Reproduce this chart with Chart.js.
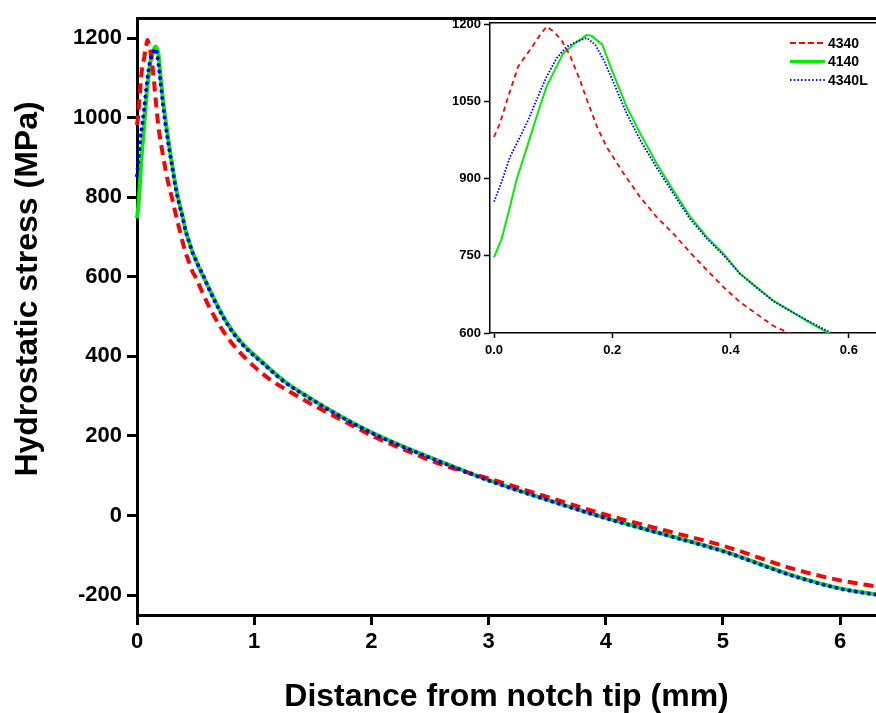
<!DOCTYPE html>
<html><head><meta charset="utf-8">
<script src="https://cdn.jsdelivr.net/npm/chart.js@4/dist/chart.umd.min.js"></script>
<style>
html,body{margin:0;padding:0;background:#fff;overflow:hidden;width:876px;height:713px}
#main{position:absolute;left:0;top:0;width:876px;height:713px}
#inset{position:absolute;left:440px;top:10px;width:436px;height:352px}
</style></head><body>
<div id="main"><canvas id="c1"></canvas></div>
<div id="inset"><canvas id="c2"></canvas></div>
<script>
const seriesNames = ['4340', '4140', '4340L'];
const xTitle = 'Distance from notch tip (mm)';
const yTitle = 'Hydrostatic stress (MPa)';

const x4340 = [0, 0.01, 0.024, 0.041, 0.061, 0.078, 0.089, 0.1, 0.114, 0.128, 0.145, 0.157, 0.174, 0.19, 0.219, 0.247, 0.275, 0.303, 0.331, 0.36, 0.388, 0.416, 0.444, 0.472, 0.506, 0.54, 0.6, 0.7, 0.8, 0.94, 1.13, 1.3, 1.5, 1.75, 2.0, 2.3, 2.6, 3.0, 3.5, 4.0, 4.5, 5.0, 5.6, 6.0, 6.35];
const y4340 = [981, 1007, 1059, 1118, 1150, 1179, 1195, 1186, 1169, 1140, 1092, 1053, 1001, 962, 910, 864, 825, 793, 757, 722, 689, 660, 637, 614, 596, 573, 534, 480, 437, 391, 343, 312, 278, 240, 201, 163, 128, 93, 47, 2, -37, -76, -134, -163, -180];

const x4140 = [0, 0.013, 0.027, 0.038, 0.055, 0.072, 0.089, 0.103, 0.117, 0.134, 0.157, 0.165, 0.183, 0.2, 0.224, 0.247, 0.275, 0.303, 0.331, 0.36, 0.388, 0.416, 0.444, 0.472, 0.5, 0.528, 0.557, 0.579, 0.6, 0.7, 0.79, 0.9, 1.08, 1.27, 1.45, 1.7, 2.0, 2.3, 2.64, 3.0, 3.5, 4.0, 4.5, 5.0, 5.6, 6.0, 6.35];
const y4140 = [747, 783, 845, 897, 958, 1020, 1079, 1111, 1143, 1160, 1179, 1177, 1160, 1108, 1040, 988, 929, 877, 827, 786, 754, 715, 689, 663, 644, 624, 605, 593, 580, 520, 474, 432, 383, 335, 300, 256, 209, 170, 130, 89, 40, -6, -47, -89, -151, -183, -200];

const x4340L = [0, 0.013, 0.027, 0.044, 0.058, 0.072, 0.089, 0.106, 0.123, 0.14, 0.157, 0.171, 0.185, 0.2, 0.224, 0.247, 0.275, 0.303, 0.331, 0.36, 0.388, 0.416, 0.444, 0.472, 0.5, 0.54, 0.58, 0.6, 0.7, 0.79, 0.9, 1.08, 1.27, 1.45, 1.7, 2.0, 2.3, 2.64, 3.0, 3.5, 4.0, 4.5, 5.0, 5.6, 6.0, 6.35];
const y4340L = [855, 894, 942, 981, 1014, 1053, 1098, 1134, 1156, 1166, 1173, 1160, 1131, 1092, 1027, 975, 921, 871, 822, 783, 751, 715, 688, 662, 643, 618, 594, 579, 518, 472, 430, 381, 333, 299, 255, 208, 169, 129, 88, 39, -7, -48, -90, -152, -184, -201];

const mainXTicks = [0, 1, 2, 3, 4, 5, 6];
const mainYTicks = [-200, 0, 200, 400, 600, 800, 1000, 1200];
const insetXTicks = [0, 0.2, 0.4, 0.6];
const insetYTicks = [600, 750, 900, 1050, 1200];

const FONT = "'Liberation Sans', Arial, sans-serif";
const pts = (xs, ys) => xs.map((x, i) => ({ x: x, y: ys[i] }));

function datasets(inset) {
  return [
    { label: seriesNames[0], data: pts(x4340, y4340), borderColor: '#ff0000',
      borderWidth: inset ? 1.8 : 4, borderDash: inset ? [5, 4] : [10, 6], order: 1 },
    { label: seriesNames[1], data: pts(x4140, y4140), borderColor: '#00ee00',
      borderWidth: inset ? 2 : 4, order: 2 },
    { label: seriesNames[2], data: pts(x4340L, y4340L), borderColor: '#0000ff',
      borderWidth: inset ? 1.8 : 4, borderDash: inset ? [1.6, 1.6] : [0.1, 6.5],
      borderCapStyle: inset ? 'butt' : 'round', order: 0 }
  ].map(d => Object.assign(d, {
    pointRadius: 0, tension: 0, fill: false, clip: inset ? 0 : 2,
    borderJoinStyle: 'round',
    cubicInterpolationMode: inset ? 'default' : 'monotone'
  }));
}

function axis(opts) {
  return Object.assign({
    type: 'linear',
    border: { display: true, color: '#000', width: opts.bw },
    grid: { display: true, drawOnChartArea: false, drawTicks: true, tickLength: opts.tl, tickWidth: opts.bw, tickColor: '#000' },
    ticks: { color: '#000', autoSkip: false, maxRotation: 0, padding: opts.pad,
             font: { family: FONT, size: opts.fs, weight: 'bold' },
             callback: opts.fmt || (v => String(v)) }
  }, opts.extra);
}

const yTitlePlugin = {
  id: 'yTitle',
  afterDraw(chart) {
    const ctx = chart.ctx;
    ctx.save();
    ctx.translate(28, 289);
    ctx.rotate(-Math.PI / 2);
    ctx.fillStyle = '#000';
    ctx.font = "bold 32px " + FONT;
    ctx.textAlign = 'center';
    ctx.textBaseline = 'middle';
    ctx.fillText(yTitle, 0, 0);
    ctx.restore();
  }
};

new Chart(document.getElementById('c1'), {
  type: 'line',
  data: { datasets: datasets(false) },
  options: {
    responsive: true, maintainAspectRatio: false, animation: false, devicePixelRatio: 1,
    layout: { padding: { top: 11, left: 0, right: 0, bottom: 0 } },
    plugins: { legend: { display: false }, tooltip: { enabled: false } },
    scales: {
      x: axis({ bw: 3, tl: 10, pad: 4, fs: 22, extra: {
        position: 'bottom', min: 0, max: 6.306,
        afterBuildTicks: s => { s.ticks = mainXTicks.map(v => ({ value: v })); },
        afterFit: s => { s.height = 98; },
        title: { display: true, text: xTitle, color: '#000', padding: { top: 0, bottom: 0 },
                 font: { family: FONT, size: 32, weight: 'bold', lineHeight: 1.0 } }
      }}),
      xTop: { type: 'linear', position: 'top', min: 0, max: 6.306,
        ticks: { display: false }, grid: { display: false, drawTicks: false },
        border: { display: true, color: '#000', width: 3 },
        afterFit: s => { s.height = 0; } },
      y: axis({ bw: 3, tl: 10, pad: 5, fs: 22, extra: {
        position: 'left', min: -250, max: 1250,
        afterBuildTicks: s => { s.ticks = mainYTicks.map(v => ({ value: v })); },
        afterFit: s => { s.width = 137; }
      }})
    }
  },
  plugins: [yTitlePlugin]
});

const legendPlugin = {
  id: 'insetLegend',
  afterDraw(chart) {
    const ctx = chart.ctx;
    const styles = [
      { c: '#ff0000', w: 2, d: [6, 3] },
      { c: '#00ee00', w: 3, d: [] },
      { c: '#0000ff', w: 2, d: [1.5, 2.2] }
    ];
    seriesNames.forEach((name, i) => {
      const y = 33 + i * 18.5;
      ctx.save();
      ctx.strokeStyle = styles[i].c;
      ctx.lineWidth = styles[i].w;
      ctx.setLineDash(styles[i].d);
      ctx.beginPath();
      ctx.moveTo(350, y);
      ctx.lineTo(385, y);
      ctx.stroke();
      ctx.setLineDash([]);
      ctx.fillStyle = '#000';
      ctx.font = "bold 14px " + FONT;
      ctx.textAlign = 'left';
      ctx.textBaseline = 'middle';
      ctx.fillText(name, 388, y + 1);
      ctx.restore();
    });
  }
};

new Chart(document.getElementById('c2'), {
  type: 'line',
  data: { datasets: datasets(true) },
  options: {
    responsive: true, maintainAspectRatio: false, animation: false, devicePixelRatio: 1,
    layout: { padding: { top: 12.5, left: 0, right: 0, bottom: 0 } },
    plugins: { legend: { display: false }, tooltip: { enabled: false } },
    scales: {
      x: axis({ bw: 1.5, tl: 5, pad: 5, fs: 13, fmt: v => Number(v).toFixed(1), extra: {
        position: 'bottom', min: -0.0068, max: 0.6458,
        afterBuildTicks: s => { s.ticks = insetXTicks.map(v => ({ value: v })); },
        afterFit: s => { s.height = 29; }
      }}),
      xTop: { type: 'linear', position: 'top', min: -0.0068, max: 0.6458,
        ticks: { display: false }, grid: { display: false, drawTicks: false },
        border: { display: true, color: '#000', width: 1.5 },
        afterFit: s => { s.height = 0; } },
      y: axis({ bw: 1.5, tl: 6, pad: 3, fs: 13, extra: {
        position: 'left', min: 600, max: 1203,
        afterBuildTicks: s => { s.ticks = insetYTicks.map(v => ({ value: v })); },
        afterFit: s => { s.width = 50; }
      }})
    }
  },
  plugins: [legendPlugin]
});
</script>
</body></html>
